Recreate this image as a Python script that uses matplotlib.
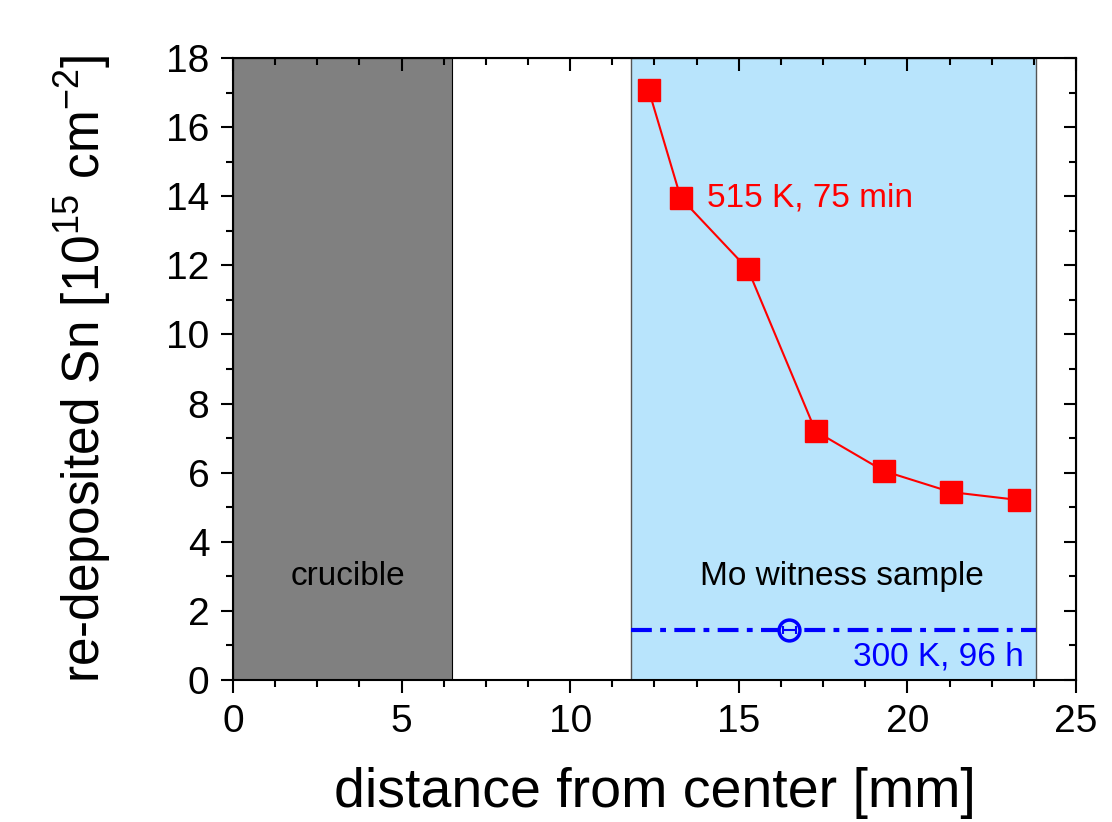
import numpy as np
import matplotlib.pyplot as plt
from matplotlib.ticker import MultipleLocator

plt.rcParams['font.family'] = ['Liberation Sans', 'DejaVu Sans']
plt.rcParams['mathtext.fontset'] = 'custom'
plt.rcParams['mathtext.rm'] = 'Liberation Sans'
plt.rcParams['mathtext.it'] = 'Liberation Sans'

# data
dist = [12.33, 13.28, 15.27, 17.28, 19.30, 21.29, 23.30]
sn_515K = [17.07, 13.95, 11.89, 7.20, 6.05, 5.44, 5.21]
rt_x = [16.5]
rt_y = [1.45]
rt_xerr = [0.2]
crucible = (0, 6.5)
witness = (11.8, 23.8)
bg_blue = '#b8e4fc'

fig = plt.figure(figsize=(11.12, 8.22), dpi=100)
ax = fig.add_axes([0.2095, 0.1727, 0.7581, 0.7567])

ax.axvspan(crucible[0], crucible[1], color='#808080', ec='black', lw=0.8, zorder=0)
ax.axvspan(witness[0], witness[1], color=bg_blue, ec='#555555', lw=1.0, zorder=0)

ax.plot(dist, sn_515K, color='red', lw=1.5, marker='s', ms=16, mfc='red', mec='red', zorder=3)

ax.plot(witness, [rt_y[0], rt_y[0]], color='blue', lw=3, ls=(0, (5, 2, 1.4, 2)), zorder=2)
ax.plot(rt_x, rt_y, 'o', ms=15, mfc=bg_blue, mec='blue', mew=2.5, zorder=3)
ax.errorbar(rt_x, rt_y, xerr=rt_xerr, fmt='none', ecolor='blue', elinewidth=1.5,
            capsize=3, capthick=1.5, zorder=4)

ax.text(14.05, 13.95, '515 K, 75 min', color='red', fontsize=24, va='center', ha='left')
ax.text(18.05, 3.0, 'Mo witness sample', color='black', fontsize=24, va='center', ha='center')
ax.text(3.4, 3.0, 'crucible', color='black', fontsize=24, va='center', ha='center')
ax.text(23.45, 0.68, '300 K, 96 h', color='blue', fontsize=24, va='center', ha='right')

ax.set_xlim(0, 25)
ax.set_ylim(0, 18)
ax.xaxis.set_major_locator(MultipleLocator(5))
ax.xaxis.set_minor_locator(MultipleLocator(1.25))
ax.yaxis.set_major_locator(MultipleLocator(2))
ax.yaxis.set_minor_locator(MultipleLocator(1))

ax.tick_params(which='both', direction='out', top=False, right=False, labelsize=28, width=1.5, pad=8)
ax.tick_params(which='major', length=9)
ax.tick_params(which='minor', length=5)
ax2 = ax.secondary_xaxis('top')
ax2.set_xticks(np.arange(0, 26, 5))
ax2.xaxis.set_minor_locator(MultipleLocator(1.25))
ax2.tick_params(which='both', direction='in', labeltop=False, width=1.5)
ax2.tick_params(which='major', length=9)
ax2.tick_params(which='minor', length=5)
ax3 = ax.secondary_yaxis('right')
ax3.set_yticks(np.arange(0, 19, 2))
ax3.yaxis.set_minor_locator(MultipleLocator(1))
ax3.tick_params(which='both', direction='in', labelright=False, width=1.5)
ax3.tick_params(which='major', length=9)
ax3.tick_params(which='minor', length=5)
for s in ax.spines.values():
    s.set_linewidth(1.5)

ax.set_xlabel('distance from center [mm]', fontsize=40, labelpad=20)
ax.set_ylabel('re-deposited Sn [10$^{15}$ cm$^{-2}$]', fontsize=37, labelpad=38)

fig.savefig('out.png', dpi=100)
